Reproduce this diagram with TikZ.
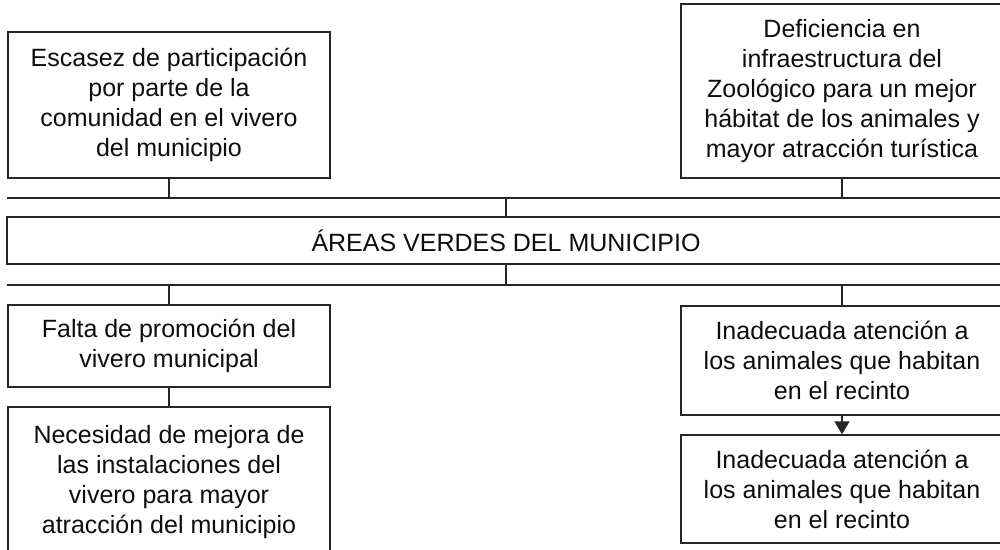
\documentclass[tikz,border=0pt]{standalone}
\usepackage{fontspec}
\setmainfont{Liberation Sans}
\usetikzlibrary{arrows.meta,positioning}
\tikzset{
  caja/.style={draw=black!85, line width=1.4pt, align=center, text=black!95,
    inner sep=0pt, font=\fontsize{25}{30}\selectfont},
  linea/.style={draw=black!85, line width=1.4pt},
  flecha/.style={draw=black!85, line width=1.4pt, -{Triangle[length=13pt,width=15pt]}}
}

\begin{document}
\begin{tikzpicture}[x=1pt,y=-1pt]
  \useasboundingbox (0,0) rectangle (1000,549);
  \clip (0,0) rectangle (1000,549);

  % causas (arriba)
  \node[caja, minimum width=322pt, minimum height=146pt] (causa1) at (169,105)
    {Escasez de participación\\por parte de la\\comunidad en el vivero\\del municipio};
  \node[caja, minimum width=322pt, minimum height=174pt] (causa2) at (842,91)
    {Deficiencia en\\infraestructura del\\Zoológico para un mejor\\hábitat de los animales y\\mayor atracción turística};

  % problema central
  \node[caja, minimum width=998pt, minimum height=47pt] (central) at (506,240.5)
    {ÁREAS VERDES DEL MUNICIPIO};

  % efectos (abajo)
  \node[caja, minimum width=322pt, minimum height=82pt] (efecto1) at (169,346)
    {Falta de promoción del\\vivero municipal};
  \node[caja, minimum width=322pt, minimum height=150pt] (efecto2) at (169,482)
    {Necesidad de mejora de\\las instalaciones del\\vivero para mayor\\atracción del municipio};
  \node[caja, minimum width=322pt, minimum height=109pt] (efecto3) at (842,360.5)
    {Inadecuada atención a\\los animales que habitan\\en el recinto};
  \node[caja, minimum width=322pt, minimum height=108pt] (efecto4) at (842,489)
    {Inadecuada atención a\\los animales que habitan\\en el recinto};

  % barras horizontales
  \coordinate (barraA-izq) at (7,198);
  \coordinate (barraA-der) at (1010,198);
  \coordinate (barraB-izq) at (7,285);
  \coordinate (barraB-der) at (1010,285);
  \draw[linea] (barraA-izq) -- (barraA-der);
  \draw[linea] (barraB-izq) -- (barraB-der);

  % uniones
  \draw[linea] (causa1.south) -- (causa1.south |- barraA-izq);
  \draw[linea] (causa2.south) -- (causa2.south |- barraA-izq);
  \draw[linea] (central.north) -- (central.north |- barraA-izq);
  \draw[linea] (central.south) -- (central.south |- barraB-izq);
  \draw[linea] (efecto1.north) -- (efecto1.north |- barraB-izq);
  \draw[linea] (efecto3.north) -- (efecto3.north |- barraB-izq);
  \draw[linea] (efecto1.south) -- (efecto2.north);
  \draw[flecha] (efecto3.south) -- (efecto4.north);
\end{tikzpicture}
\end{document}
